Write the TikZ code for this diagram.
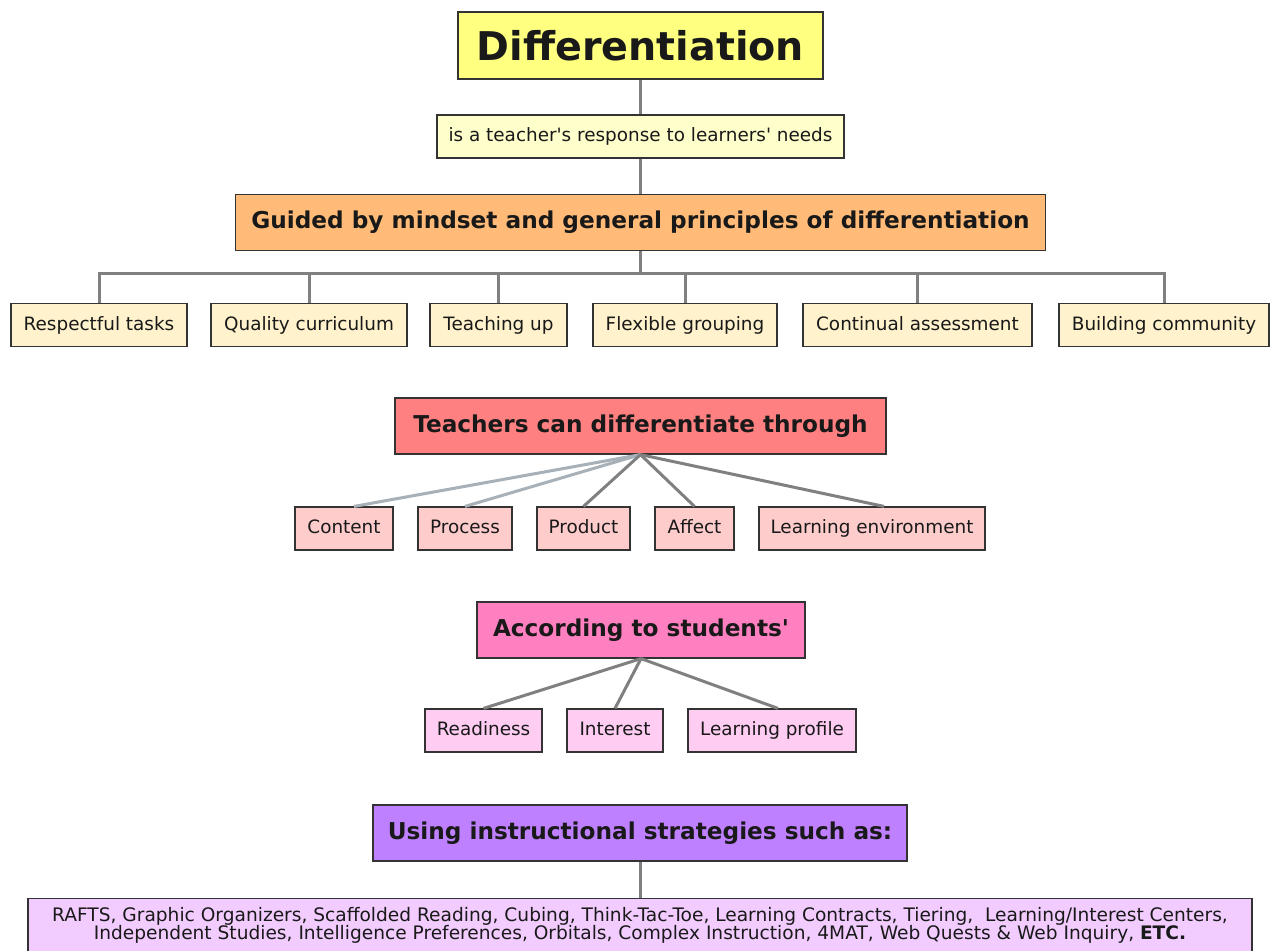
\documentclass[tikz,border=0pt]{standalone}
\usepackage{fontspec}
\setmainfont{DejaVu Sans}
\usepackage{xcolor}
\usetikzlibrary{positioning}

\definecolor{titleyellow}{HTML}{FFFF80}
\definecolor{paleyellow}{HTML}{FFFFCC}
\definecolor{guideorange}{HTML}{FFBB77}
\definecolor{wheat}{HTML}{FFF2CC}
\definecolor{salmon}{HTML}{FF8080}
\definecolor{palerose}{HTML}{FFCCCC}
\definecolor{hotpink}{HTML}{FF80C0}
\definecolor{palepink}{HTML}{FFCCF2}
\definecolor{violet}{HTML}{BF80FF}
\definecolor{palelilac}{HTML}{F2CCFF}
\definecolor{linkgray}{HTML}{808080}
\definecolor{lightlink}{HTML}{A8B0B8}

\begin{document}
\begin{tikzpicture}[x=1pt, y=-1pt,
    box/.style={draw=black!80, line width=1.2pt, inner sep=0pt, text=black!90,
        font=\fontsize{18.4}{21}\selectfont, minimum height=43,
        text height=14pt, text depth=4pt},
    headbox/.style={box, font=\bfseries\fontsize{23.2}{26}\selectfont, minimum height=56,
        text height=17pt, text depth=5pt},
    link/.style={draw=linkgray, line width=3pt},
    softlink/.style={draw=lightlink, line width=3pt}]
    \fill[white] (0,0) rectangle (1270,951);
    \useasboundingbox (0,0) rectangle (1270,951);
    \clip (0,0) rectangle (1270,951);

    % 1. Title and definition
    \node[box, fill=titleyellow, minimum width=365, minimum height=67,
        text height=29pt, text depth=0pt,
        font=\bfseries\fontsize{39.6}{44}\selectfont] (title) at (640.5,45.5) {Differentiation};
    \node[box, fill=paleyellow, minimum width=407] (response) at (640.5,136.5)
        {is a teacher\textquotesingle s response to learners\textquotesingle\ needs};
    \node[headbox, fill=guideorange, minimum width=810] (guided) at (640.5,222.5)
        {Guided by mindset and general principles of differentiation};
    \draw[link] (title) -- (response);
    \draw[link] (response) -- (guided);

    % 2. General principles
    \node[box, fill=wheat, minimum width=176] (respect) at (99,325) {Respectful tasks};
    \node[box, fill=wheat, minimum width=196] (quality) at (309,325) {Quality curriculum};
    \node[box, fill=wheat, minimum width=137] (teachup) at (498.5,325) {Teaching up};
    \node[box, fill=wheat, minimum width=184] (flexible) at (685,325) {Flexible grouping};
    \node[box, fill=wheat, minimum width=229] (continual) at (917.5,325) {Continual assessment};
    \node[box, fill=wheat, minimum width=210] (community) at (1164,325) {Building community};
    \coordinate (bus) at (640.5,273);
    \draw[link] (guided.south) -- (bus);
    \foreach \p in {respect, quality, teachup, flexible, continual, community}
        \draw[link] (bus) -| (\p.north);

    % 3. What teachers can differentiate
    \node[headbox, fill=salmon, minimum width=491] (through) at (640.5,426)
        {Teachers can differentiate through};
    \node[box, fill=palerose, minimum width=98] (content) at (344,528.5) {Content};
    \node[box, fill=palerose, minimum width=94] (process) at (465,528.5) {Process};
    \node[box, fill=palerose, minimum width=93] (product) at (583.5,528.5) {Product};
    \node[box, fill=palerose, minimum width=79] (affect) at (694.5,528.5) {Affect};
    \node[box, fill=palerose, minimum width=226] (learnenv) at (872,528.5) {Learning environment};
    \draw[softlink] (through.south) -- ([xshift=10]content.north);
    \draw[softlink] (through.south) -- (process.north);
    \draw[link] (through.south) -- (product.north);
    \draw[link] (through.south) -- (affect.north);
    \draw[link] (through.south) -- ([xshift=12]learnenv.north);

    % 4. According to students'
    \node[headbox, fill=hotpink, minimum width=328] (according) at (641,630)
        {According to students\textquotesingle};
    \node[box, fill=palepink, minimum width=117] (readiness) at (483.5,730.5) {Readiness};
    \node[box, fill=palepink, minimum width=96] (interest) at (615,730.5) {Interest};
    \node[box, fill=palepink, minimum width=168] (profile) at (772,730.5) {Learning profile};
    \draw[link] (according.south) -- (readiness.north);
    \draw[link] (according.south) -- (interest.north);
    \draw[link] (according.south) -- ([xshift=6]profile.north);

    % 5. Instructional strategies
    \node[headbox, fill=violet, minimum width=534] (using) at (640,833)
        {Using instructional strategies such as:};
    \node[box, fill=palelilac, anchor=north, minimum width=1224, minimum height=70] (strats) at (640,898) {};
    \node[align=center, inner sep=0pt, text=black!90, font=\fontsize{18.6}{18.5}\selectfont]
        (stratstext) at (640,925.5)
        {RAFTS, Graphic Organizers, Scaffolded Reading, Cubing, Think-Tac-Toe, Learning Contracts, Tiering, \ Learning/Interest Centers,\\
         Independent Studies, Intelligence Preferences, Orbitals, Complex Instruction, 4MAT, Web Quests \& Web Inquiry, \textbf{ETC.}};
    \draw[link] (using.south) -- (strats.north);
\end{tikzpicture}
\end{document}
